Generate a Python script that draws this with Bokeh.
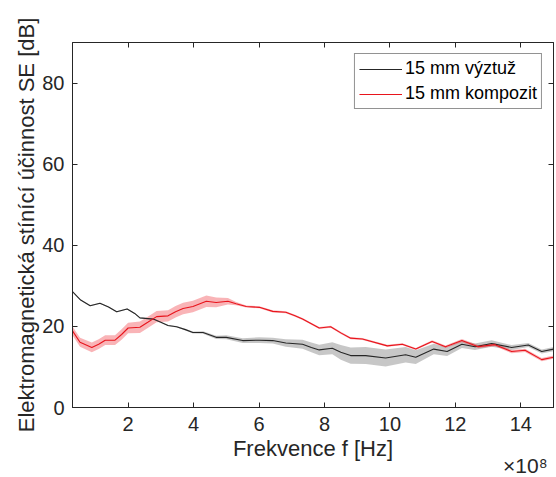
from bokeh.plotting import figure
from bokeh.models import Range1d, LinearAxis, FixedTicker, Legend, LegendItem, Title
from bokeh.embed import file_html
from bokeh.resources import INLINE

# frequency in units of 1e8 Hz
black_x = [0.3, 0.55, 0.84, 1.14, 1.4, 1.65, 1.97, 2.2, 2.36, 2.77, 3.0, 3.22, 3.48, 3.75, 3.98, 4.29,
           4.69, 5.0, 5.5, 6.01, 6.42, 6.82, 7.33, 7.6, 7.84, 8.24, 8.5, 8.8, 9.26, 9.87, 10.48, 10.79,
           11.34, 11.75, 12.2, 12.6, 13.11, 13.72, 14.23, 14.64, 15.0]
black_y = [28.6, 26.5, 25.1, 25.7, 24.8, 23.6, 24.3, 23.2, 22.1, 21.8, 21.0, 20.2, 19.9, 19.2, 18.5, 18.5,
           17.3, 17.3, 16.5, 16.6, 16.5, 15.9, 15.6, 14.8, 14.2, 14.6, 13.6, 12.8, 12.8, 12.2, 13.0, 12.4,
           14.4, 13.8, 15.6, 15.0, 15.8, 14.8, 15.4, 13.8, 14.4]
black_dev = [0.15, 0.15, 0.15, 0.15, 0.15, 0.15, 0.15, 0.15, 0.15, 0.15, 0.15, 0.15, 0.2, 0.2, 0.25, 0.3,
             0.4, 0.5, 0.6, 0.7, 0.7, 0.9, 1.1, 1.2, 1.3, 1.5, 1.8, 2.0, 2.1, 2.1, 1.9, 1.7,
             1.3, 1.1, 0.9, 0.8, 0.8, 0.6, 0.5, 0.5, 0.5]

red_x = [0.3, 0.53, 0.89, 1.1, 1.3, 1.6, 1.8, 2.0, 2.36, 2.6, 2.87, 3.22, 3.45, 3.68, 3.98, 4.39, 4.69,
         5.05, 5.3, 5.61, 6.01, 6.42, 6.82, 7.1, 7.33, 7.84, 8.19, 8.5, 8.8, 9.16, 9.92, 10.38, 10.79,
         11.29, 11.7, 12.2, 12.7, 13.21, 13.72, 14.13, 14.64, 15.0]
red_y = [18.9, 16.1, 14.8, 15.6, 16.6, 16.6, 18.0, 19.6, 19.8, 21.0, 22.4, 22.6, 23.6, 24.4, 24.9, 26.2, 25.9,
         26.2, 25.6, 24.9, 24.7, 23.7, 23.5, 22.6, 21.8, 19.6, 19.9, 18.4, 17.1, 16.9, 15.2, 15.6, 14.4,
         16.3, 15.0, 16.5, 15.0, 15.5, 13.8, 14.1, 11.8, 12.4]
red_dev = [1.1, 1.1, 1.2, 1.2, 1.2, 1.2, 1.3, 1.3, 1.4, 1.4, 1.4, 1.4, 1.4, 1.4, 1.4, 1.4, 1.2,
           0.8, 0.4, 0.25, 0.25, 0.25, 0.25, 0.25, 0.25, 0.25, 0.25, 0.25, 0.25, 0.25, 0.25, 0.25, 0.25,
           0.3, 0.3, 0.4, 0.4, 0.4, 0.4, 0.4, 0.4, 0.4]

x_ticks = [2, 4, 6, 8, 10, 12, 14]
y_ticks = [0, 20, 40, 60, 80]
x_exponent = "×10⁸"

FONT = "Liberation Sans"
AX = "#262626"

p = figure(width=556, height=477, x_range=Range1d(0.3, 15), y_range=Range1d(0, 90),
           output_backend="svg", toolbar_location=None,
           min_border_left=72, min_border_right=3, min_border_top=42, min_border_bottom=70)
p.grid.visible = False
p.outline_line_color = AX
p.outline_line_width = 1

for ax in (p.xaxis[0], p.yaxis[0]):
    ax.major_tick_in = 5
    ax.major_tick_out = 0
    ax.minor_tick_line_color = None
    ax.axis_line_color = AX
    ax.major_tick_line_color = AX
    ax.major_label_text_font = FONT
    ax.major_label_text_font_size = "20px"
    ax.major_label_text_color = AX
    ax.axis_label_text_font = FONT
    ax.axis_label_text_font_size = "22px"
    ax.axis_label_text_font_style = "normal"
    ax.axis_label_text_color = AX

p.xaxis[0].ticker = FixedTicker(ticks=x_ticks)
p.yaxis[0].ticker = FixedTicker(ticks=y_ticks)
p.xaxis[0].axis_label = "Frekvence f [Hz]"
p.yaxis[0].axis_label = "Elektromagnetická stínící účinnost SE [dB]"
p.xaxis[0].major_label_standoff = 9
p.xaxis[0].axis_label_standoff = 2
p.yaxis[0].major_label_standoff = 8
p.yaxis[0].axis_label_standoff = 0

# box ticks on top and right (no labels)
top = LinearAxis(ticker=FixedTicker(ticks=x_ticks), major_tick_in=5, major_tick_out=0,
                 minor_tick_line_color=None, major_label_text_font_size="1px",
                 major_label_text_color=None,
                 axis_line_color=AX, major_tick_line_color=AX, major_label_standoff=0)
right = LinearAxis(ticker=FixedTicker(ticks=y_ticks), major_tick_in=5, major_tick_out=0,
                   minor_tick_line_color=None, major_label_text_font_size="1px",
                   major_label_text_color=None,
                   axis_line_color=AX, major_tick_line_color=AX, major_label_standoff=0)
p.add_layout(top, "above")
p.add_layout(right, "right")

black_lo = [y - d for y, d in zip(black_y, black_dev)]
black_hi = [y + d for y, d in zip(black_y, black_dev)]
red_lo = [y - d for y, d in zip(red_y, red_dev)]
red_hi = [y + d for y, d in zip(red_y, red_dev)]

p.varea(x=black_x, y1=black_lo, y2=black_hi, fill_color="black", fill_alpha=0.22)
p.varea(x=red_x, y1=red_lo, y2=red_hi, fill_color="#ee1c25", fill_alpha=0.33)
lb = p.line(black_x, black_y, line_color="#262626", line_width=1.1)
lr = p.line(red_x, red_y, line_color="#e8141c", line_width=1.1)

legend = Legend(items=[LegendItem(label="15 mm výztuž", renderers=[lb]),
                       LegendItem(label="15 mm kompozit", renderers=[lr])],
                location="top_right", margin=11, padding=4, spacing=4,
                glyph_width=43, label_text_font=FONT, label_text_font_size="18px",
                label_text_color="black", border_line_color=AX, border_line_width=1,
                background_fill_alpha=1.0, label_standoff=3)
p.add_layout(legend)

# exponent of the x axis, in the panel below the axis
p.add_layout(Title(text=x_exponent, align="right", offset=6, standoff=-23,
                   text_font=FONT, text_font_size="21px", text_font_style="normal",
                   text_color=AX), "below")

open("out.html", "w").write(file_html(p, INLINE))
